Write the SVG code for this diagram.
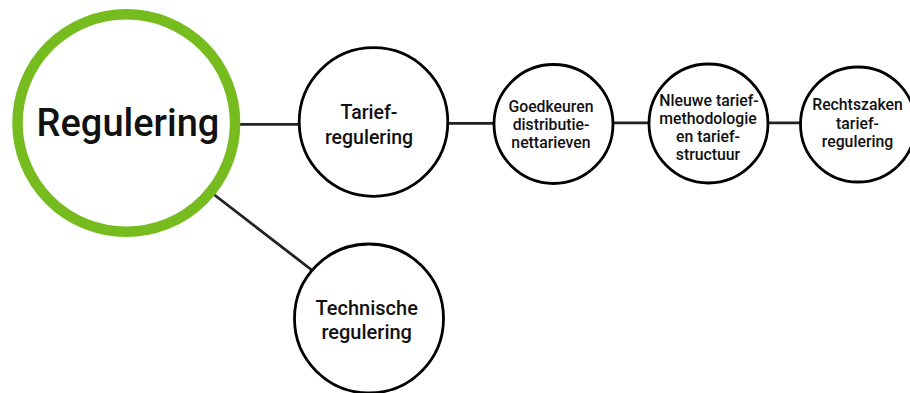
<svg xmlns="http://www.w3.org/2000/svg" width="910" height="393" viewBox="0 0 910 393">
<style>
.n{fill:#fff;stroke:#000;stroke-width:2.8}
.t{font-family:Roboto,"Liberation Sans",sans-serif;font-weight:500;fill:#111;text-anchor:middle}
.c{stroke:#222;stroke-width:2.8;fill:none}
</style>
<rect width="910" height="393" fill="#fff"/>
<g id="connectors">
<line class="c" x1="240" y1="124.3" x2="299" y2="124.3"/>
<line class="c" x1="449" y1="123.3" x2="494" y2="123.3"/>
<line class="c" x1="614" y1="122.8" x2="649" y2="122.8"/>
<line class="c" x1="768" y1="122.8" x2="801" y2="122.8"/>
<line class="c" x1="212" y1="193" x2="313" y2="271"/>
</g>
<g id="regulering">
<circle cx="126.3" cy="123" r="108.8" fill="#fff" stroke="#77BC1F" stroke-width="10.5"/>
<text class="t" x="128" y="135.5" font-size="38">Regulering</text>
</g>
<g id="tariefregulering">
<circle class="n" cx="373.5" cy="122" r="74.3"/>
<text class="t" x="369" y="119" font-size="19.5">Tarief-</text>
<text class="t" x="369" y="144" font-size="19.5">regulering</text>
</g>
<g id="goedkeuren">
<circle class="n" cx="553.5" cy="124" r="59.5"/>
<text class="t" x="551" y="111.7" font-size="15.8">Goedkeuren</text>
<text class="t" x="551" y="129.8" font-size="15.8">distributie-</text>
<text class="t" x="551" y="148" font-size="15.8">nettarieven</text>
</g>
<g id="nieuwe">
<circle class="n" cx="708.5" cy="123.5" r="59.5"/>
<text class="t" x="709" y="106" font-size="15.8">Nleuwe tarief-</text>
<text class="t" x="708" y="124" font-size="15.8">methodologie</text>
<text class="t" x="708" y="142.2" font-size="15.8">en tarief-</text>
<text class="t" x="708" y="160.2" font-size="15.8">structuur</text>
</g>
<g id="rechtszaken">
<circle class="n" cx="858" cy="124.5" r="57.5"/>
<text class="t" x="857.5" y="110" font-size="15.8">Rechtszaken</text>
<text class="t" x="857.5" y="128.8" font-size="15.8">tarief-</text>
<text class="t" x="857.5" y="147.3" font-size="15.8">regulering</text>
</g>
<g id="technische">
<circle class="n" cx="369" cy="318.5" r="74.5"/>
<text class="t" x="366.7" y="315" font-size="20">Technische</text>
<text class="t" x="366.7" y="338.5" font-size="20">regulering</text>
</g>
</svg>
